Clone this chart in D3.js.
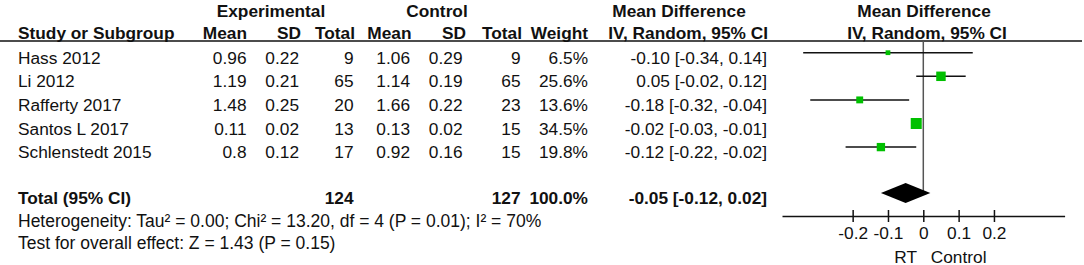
<!DOCTYPE html>
<html>
<head>
<meta charset="utf-8">
<script src="https://cdn.jsdelivr.net/npm/d3@7"></script>
<style>
  body { margin: 0; background: #fff; }
  text { font-family: "Liberation Sans", Arial, sans-serif; font-size: 17.3px; fill: #111; }
  .bold { font-weight: bold; }
  .foot { font-size: 17.5px; }
</style>
</head>
<body>
<script>
//size of svg
const canvWidth = 1084;
const canvHeight = 265;

//**************************************************************************
//Data

const studies = ["Hass 2012", "Li 2012", "Rafferty 2017", "Santos L 2017", "Schlenstedt 2015"];
const expMean = [0.96, 1.19, 1.48, 0.11, 0.8];
const expSD = [0.22, 0.21, 0.25, 0.02, 0.12];
const expN = [9, 65, 20, 13, 17];
const ctlMean = [1.06, 1.14, 1.66, 0.13, 0.92];
const ctlSD = [0.29, 0.19, 0.22, 0.02, 0.16];
const ctlN = [9, 65, 23, 15, 15];
const weight = [6.5, 25.6, 13.6, 34.5, 19.8];
const md = [-0.10, 0.05, -0.18, -0.02, -0.12];
const ciLow = [-0.34, -0.02, -0.32, -0.03, -0.22];
const ciHigh = [0.14, 0.12, -0.04, -0.01, -0.02];

const total = {label: "Total (95% CI)", expN: 124, ctlN: 127, weight: 100.0, md: -0.05, lo: -0.12, hi: 0.02};
const heterogeneity = "Heterogeneity: Tau\u00b2 = 0.00; Chi\u00b2 = 13.20, df = 4 (P = 0.01); I\u00b2 = 70%";
const overallTest = "Test for overall effect: Z = 1.43 (P = 0.15)";

const ticks = [-0.2, -0.1, 0, 0.1, 0.2];
const favours = [{label: "RT", at: -0.05}, {label: "Control", at: 0.1}];

//**************************************************************************
//svg

const svg = d3.select("body").append("svg")
  .attr("width", canvWidth)
  .attr("height", canvHeight);

//row baselines of the table
const rowY = d3.scaleLinear().domain([0, 1]).range([63.7, 63.7 + 23.6]);
const totalY = 204;
const markOffset = -11;   // marks sit a bit above text baseline

//x scale of the forest plot
const xScale = d3.scaleLinear().domain([-0.4, 0.4]).range([782, 1064.6]);
const sizeScale = d3.scaleSqrt().domain([0, 34.5]).range([0, 11]);

//**************************************************************************
//Headers

const addText = (x, y, txt, anchor, cls) => svg.append("text")
  .attr("x", x).attr("y", y)
  .attr("text-anchor", anchor)
  .attr("class", cls || null)
  .text(txt);

addText(271, 17, "Experimental", "middle", "bold");
addText(437, 17, "Control", "middle", "bold");
addText(679, 17, "Mean Difference", "middle", "bold");
addText(924, 17, "Mean Difference", "middle", "bold");

const cols = [
  {hx: 18, anchor: "start", label: "Study or Subgroup", vx: 18},
  {hx: 247, label: "Mean", vx: 246.5},
  {hx: 301, label: "SD", vx: 299},
  {hx: 355, label: "Total", vx: 353.5},
  {hx: 411.5, label: "Mean", vx: 410},
  {hx: 466, label: "SD", vx: 462.5},
  {hx: 522, label: "Total", vx: 520.5},
  {hx: 588, label: "Weight", vx: 588},
  {hx: 768, label: "IV, Random, 95% CI", vx: 767}
];
cols.forEach(c => addText(c.hx, 39, c.label, c.anchor || "end", "bold"));
addText(927, 39, "IV, Random, 95% CI", "middle", "bold");

//header rule
svg.append("line")
  .attr("x1", 0).attr("x2", 1082)
  .attr("y1", 41).attr("y2", 41)
  .attr("stroke", "#111").attr("stroke-width", 1.5);

//**************************************************************************
//Study rows

const fmtCI = (m, l, h) => `${m.toFixed(2)} [${l.toFixed(2)}, ${h.toFixed(2)}]`;

studies.forEach((s, i) => {
  const y = rowY(i);
  const vals = [s, String(expMean[i]), String(expSD[i]), String(expN[i]),
    String(ctlMean[i]), String(ctlSD[i]), String(ctlN[i]),
    weight[i].toFixed(1) + "%", fmtCI(md[i], ciLow[i], ciHigh[i])];
  vals.forEach((v, j) => addText(cols[j].vx, y, v, cols[j].anchor || "end"));
});

//total row
addText(18, totalY, total.label, "start", "bold");
addText(cols[3].vx, totalY, String(total.expN), "end", "bold");
addText(cols[6].vx, totalY, String(total.ctlN), "end", "bold");
addText(cols[7].vx, totalY, total.weight.toFixed(1) + "%", "end", "bold");
addText(cols[8].vx, totalY, fmtCI(total.md, total.lo, total.hi), "end", "bold");

addText(18, 227, heterogeneity, "start", "foot");
addText(18, 249, overallTest, "start", "foot");

//**************************************************************************
//Forest plot

const plot = svg.append("g").attr("id", "forest");

//zero line
plot.append("line")
  .attr("x1", xScale(0)).attr("x2", xScale(0))
  .attr("y1", 41).attr("y2", totalY + markOffset + 1.5)
  .attr("stroke", "#555").attr("stroke-width", 1.5);

const rows = studies.map((s, i) => ({s, md: md[i], lo: ciLow[i], hi: ciHigh[i], w: weight[i], y: rowY(i) + markOffset}));

plot.selectAll(".ci")
  .data(rows)
  .enter().append("line")
  .attr("class", "ci")
  .attr("x1", d => xScale(d.lo))
  .attr("x2", d => xScale(d.hi))
  .attr("y1", d => d.y).attr("y2", d => d.y)
  .attr("stroke", "#111").attr("stroke-width", 1.5);

plot.selectAll(".box")
  .data(rows)
  .enter().append("rect")
  .attr("class", "box")
  .attr("x", d => xScale(d.md) - sizeScale(d.w) / 2)
  .attr("y", d => d.y - sizeScale(d.w) / 2)
  .attr("width", d => sizeScale(d.w))
  .attr("height", d => sizeScale(d.w))
  .attr("fill", "#00c000");

//diamond
const dy = totalY + markOffset;
plot.append("path")
  .attr("d", `M${xScale(total.lo)},${dy} L${xScale(total.md)},${dy - 10} L${xScale(total.hi)},${dy} L${xScale(total.md)},${dy + 10} Z`)
  .attr("fill", "#000");

//axis
const xAxis = d3.axisBottom(xScale)
  .tickValues(ticks)
  .tickSizeInner(12)
  .tickSizeOuter(0)
  .tickFormat(d => String(d));

const axisG = plot.append("g")
  .attr("id", "x-axis")
  .attr("transform", "translate(0,216)")
  .call(xAxis);

axisG.attr("font-family", null).attr("font-size", null);
axisG.select(".domain").attr("stroke", "#111").attr("stroke-width", 1.5);
axisG.selectAll(".tick line").attr("y1", -6).attr("y2", 6).attr("stroke", "#111").attr("stroke-width", 1.5);
axisG.selectAll(".tick text").attr("y", 23.3).attr("dy", null).attr("fill", "#111");

plot.selectAll(".favour")
  .data(favours)
  .enter().append("text")
  .attr("class", "favour")
  .attr("x", d => xScale(d.at))
  .attr("y", 262.5)
  .attr("text-anchor", "middle")
  .text(d => d.label);
</script>
</body>
</html>
